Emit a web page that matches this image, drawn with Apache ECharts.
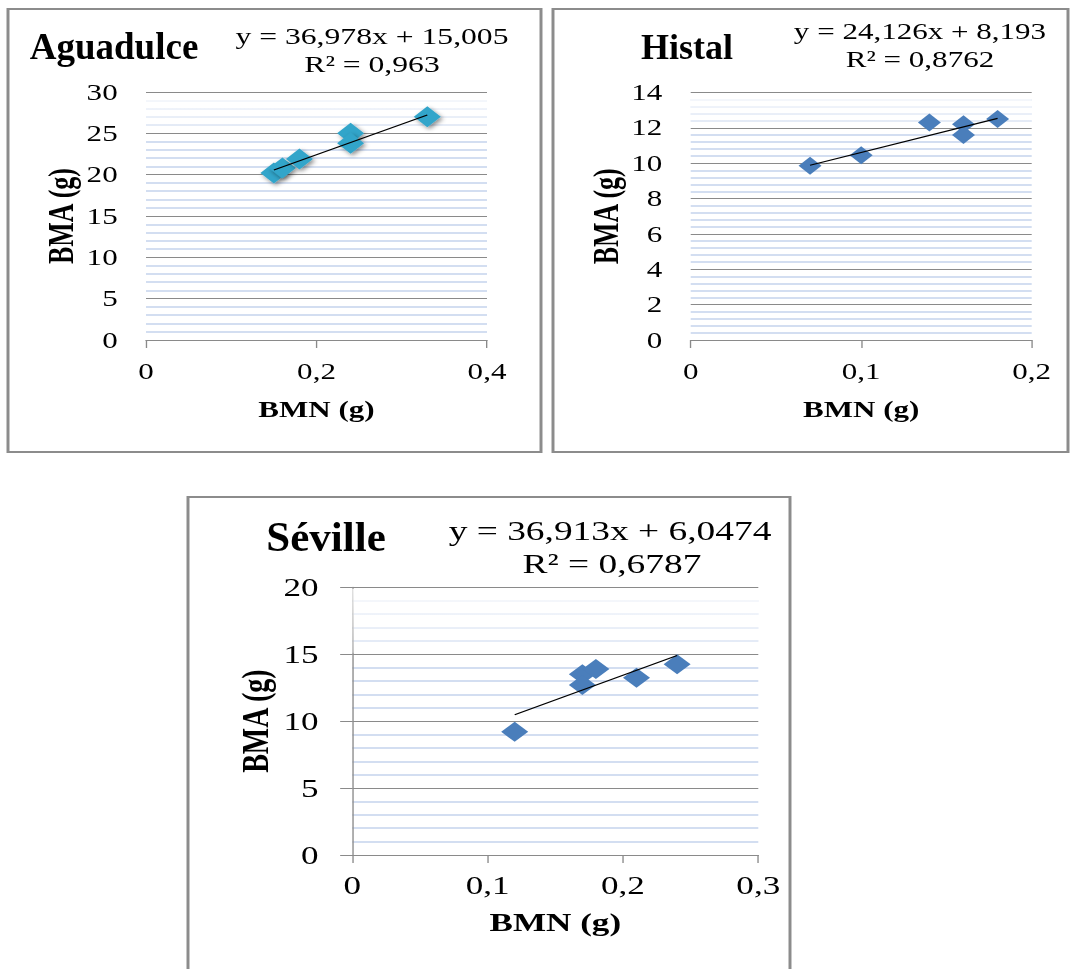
<!DOCTYPE html>
<html>
<head>
<meta charset="utf-8">
<script src="https://cdn.jsdelivr.net/npm/echarts@6/dist/echarts.min.js"></script>
<style>
html,body{margin:0;padding:0;background:#fff;overflow:hidden;}
#wrap{width:1076px;height:969px;overflow:hidden;position:relative;}
#chart{width:797px;height:969px;transform:scaleX(1.35);transform-origin:0 0;}
</style>
</head>
<body>
<div id="wrap"><div id="chart"></div></div>
<script>
// ---- data ----
const panelTitles = ['Aguadulce', 'Histal', 'Séville'];
const equationTexts = ['y = 36,978x + 15,005', 'y = 24,126x + 8,193', 'y = 36,913x + 6,0474'];
const r2Texts = ['R² = 0,963', 'R² = 0,8762', 'R² = 0,6787'];
const trendSlopes = [36.978, 24.126, 36.913];
const trendIntercepts = [15.005, 8.193, 6.0474];

const aguaX = [0.15, 0.16, 0.18, 0.24, 0.24, 0.33];
const aguaY = [20.2, 20.8, 21.9, 25.0, 23.8, 27.0];
const histX = [0.07, 0.10, 0.14, 0.16, 0.16, 0.18];
const histY = [9.85, 10.45, 12.3, 12.2, 11.6, 12.5];
const sevX = [0.12, 0.17, 0.17, 0.18, 0.21, 0.24];
const sevY = [9.2, 13.5, 12.7, 13.9, 13.25, 14.25];

const aguaXTicks = [0, 0.2, 0.4];
const aguaYTicks = [0, 5, 10, 15, 20, 25, 30];
const histXTicks = [0, 0.1, 0.2];
const histYTicks = [0, 2, 4, 6, 8, 10, 12, 14];
const sevXTicks = [0, 0.1, 0.2, 0.3];
const sevYTicks = [0, 5, 10, 15, 20];

const xAxisName = 'BMN (g)';
const yAxisName = 'BMA (g)';

// ---- layout ----
const S = 1.35;               // horizontal stretch of the original figure
const ux = v => v / S;
const FONT = '"Liberation Serif", "Times New Roman", serif';
const fmt = v => String(Math.round(v * 100) / 100).replace('.', ',');

const panels = [
  { xs: aguaX, ys: aguaY, xt: aguaXTicks, yt: aguaYTicks,
    grid: { left: ux(146), top: 92, width: ux(487 - 146), height: 248 },
    color: '#33a5ca', size: [20, 21], shadow: true, yLine: false,
    tickFont: 23, nameFont: 23, yNameFont: 26, xMargin: 20, yMargin: 21, xGap: 58, yGap: 50,
    frame: [8, 9, 541, 452],
    title: [114, 47, 37], eq: [372, 36, 23, 1.02], r2: [372, 64] },
  { xs: histX, ys: histY, xt: histXTicks, yt: histYTicks,
    grid: { left: ux(690.7), top: 92.5, width: ux(1031.7 - 690.7), height: 247.5 },
    color: '#4a7ebb', size: [17, 18], shadow: false, yLine: false,
    tickFont: 23, nameFont: 23, yNameFont: 26, xMargin: 20, yMargin: 21, xGap: 58, yGap: 50,
    frame: [553, 9, 1068, 452],
    title: [687, 47, 36], eq: [920, 31, 23, 1.0], r2: [920, 59] },
  { xs: sevX, ys: sevY, xt: sevXTicks, yt: sevYTicks,
    grid: { left: ux(352.3), top: 587.3, width: ux(758.3 - 352.3), height: 267.7 },
    color: '#4a7ebb', size: [20, 20], shadow: false, yLine: true,
    tickFont: 26, nameFont: 26, yNameFont: 28, xMargin: 17, yMargin: 25, xGap: 54, yGap: 58,
    frame: [188, 497, 790, 990],
    title: [326, 537, 43], eq: [610, 531, 28, 0.99], r2: [612, 564] }
];

const grids = [], xAxes = [], yAxes = [], series = [], graphics = [];

panels.forEach((p, i) => {
  grids.push(p.grid);
  xAxes.push({
    type: 'value', gridIndex: i,
    min: p.xt[0], max: p.xt[p.xt.length - 1], interval: p.xt[1] - p.xt[0],
    name: xAxisName, nameLocation: 'middle', nameGap: p.xGap,
    nameTextStyle: { fontFamily: FONT, fontWeight: 'bold', fontSize: p.nameFont, color: '#000' },
    axisLine: { show: true, onZero: false, lineStyle: { color: '#8a8a8a', width: 1 } },
    axisTick: { show: true, length: 8, lineStyle: { color: '#8a8a8a' } },
    axisLabel: { fontFamily: FONT, fontSize: p.tickFont, color: '#000', margin: p.xMargin, formatter: fmt },
    splitLine: { show: false }
  });
  yAxes.push({
    type: 'value', gridIndex: i,
    min: p.yt[0], max: p.yt[p.yt.length - 1], interval: p.yt[1] - p.yt[0],
    name: yAxisName, nameLocation: 'middle', nameGap: p.yGap,
    nameTextStyle: { fontFamily: FONT, fontWeight: 'bold', fontSize: p.yNameFont, color: '#000' },
    axisLine: { show: p.yLine, lineStyle: { color: '#8a8a8a', width: 1 } },
    axisTick: { show: p.yLine, length: 9, lineStyle: { color: '#8a8a8a' } },
    axisLabel: { fontFamily: FONT, fontSize: p.tickFont, color: '#000', margin: p.yMargin, formatter: fmt },
    splitLine: { show: true, lineStyle: { color: '#8a8a8a', width: 1 } },
    minorTick: { show: false, splitNumber: 5 },
    minorSplitLine: { show: true, lineStyle: { color: '#c4d3ed', width: 1.6 } }
  });
  series.push({
    type: 'scatter', xAxisIndex: i, yAxisIndex: i,
    symbol: 'diamond', symbolSize: p.size,
    data: p.xs.map((x, k) => [x, p.ys[k]]),
    itemStyle: Object.assign({ color: p.color, opacity: 1 },
      p.shadow ? { shadowBlur: 4, shadowColor: 'rgba(0,0,0,0.45)', shadowOffsetX: 1.5, shadowOffsetY: 2 } : {}),
    emphasis: { disabled: true }, silent: true, z: 3
  });
  const x0 = Math.min.apply(null, p.xs), x1 = Math.max.apply(null, p.xs);
  series.push({
    type: 'line', xAxisIndex: i, yAxisIndex: i,
    data: [[x0, trendSlopes[i] * x0 + trendIntercepts[i]], [x1, trendSlopes[i] * x1 + trendIntercepts[i]]],
    symbol: 'none', lineStyle: { color: '#000', width: 1.1 },
    silent: true, z: 4, animation: false
  });
  // soft fade of the plot-area fill in the top band (as in the original)
  const g = p.grid, band = g.height / (p.yt.length - 1);
  graphics.push({
    type: 'rect', silent: true, z: 1,
    shape: { x: g.left, y: g.top + 1.5, width: g.width, height: band - 3 },
    style: { fill: { type: 'linear', x: 0, y: 0, x2: 0, y2: 1,
      colorStops: [{ offset: 0, color: 'rgba(255,255,255,0.85)' }, { offset: 1, color: 'rgba(255,255,255,0.3)' }] } }
  });
  const f = p.frame;
  graphics.push({
    type: 'rect', silent: true, z: 0,
    shape: { x: ux(f[0]), y: f[1], width: ux(f[2] - f[0]), height: f[3] - f[1] },
    style: { fill: null, stroke: '#8c8c8c', lineWidth: 2.2 }
  });
  graphics.push({
    type: 'text', x: ux(p.title[0]), y: p.title[1], scaleX: 1 / S, z: 10,
    style: { text: panelTitles[i], font: 'bold ' + p.title[2] + 'px ' + FONT, fill: '#000',
             align: 'center', verticalAlign: 'middle', textAlign: 'center', textVerticalAlign: 'middle' }
  });
  graphics.push({
    type: 'text', x: ux(p.eq[0]), y: p.eq[1], scaleX: p.eq[3], z: 10,
    style: { text: equationTexts[i], font: p.eq[2] + 'px ' + FONT, fill: '#000',
             align: 'center', verticalAlign: 'middle', textAlign: 'center', textVerticalAlign: 'middle' }
  });
  graphics.push({
    type: 'text', x: ux(p.r2[0]), y: p.r2[1], scaleX: p.eq[3], z: 10,
    style: { text: r2Texts[i], font: p.eq[2] + 'px ' + FONT, fill: '#000',
             align: 'center', verticalAlign: 'middle', textAlign: 'center', textVerticalAlign: 'middle' }
  });
});

const chart = echarts.init(document.getElementById('chart'), null, { renderer: 'svg' });
chart.setOption({
  backgroundColor: '#fff',
  animation: false,
  grid: grids,
  xAxis: xAxes,
  yAxis: yAxes,
  series: series,
  graphic: { elements: graphics }
});
</script>
</body>
</html>
